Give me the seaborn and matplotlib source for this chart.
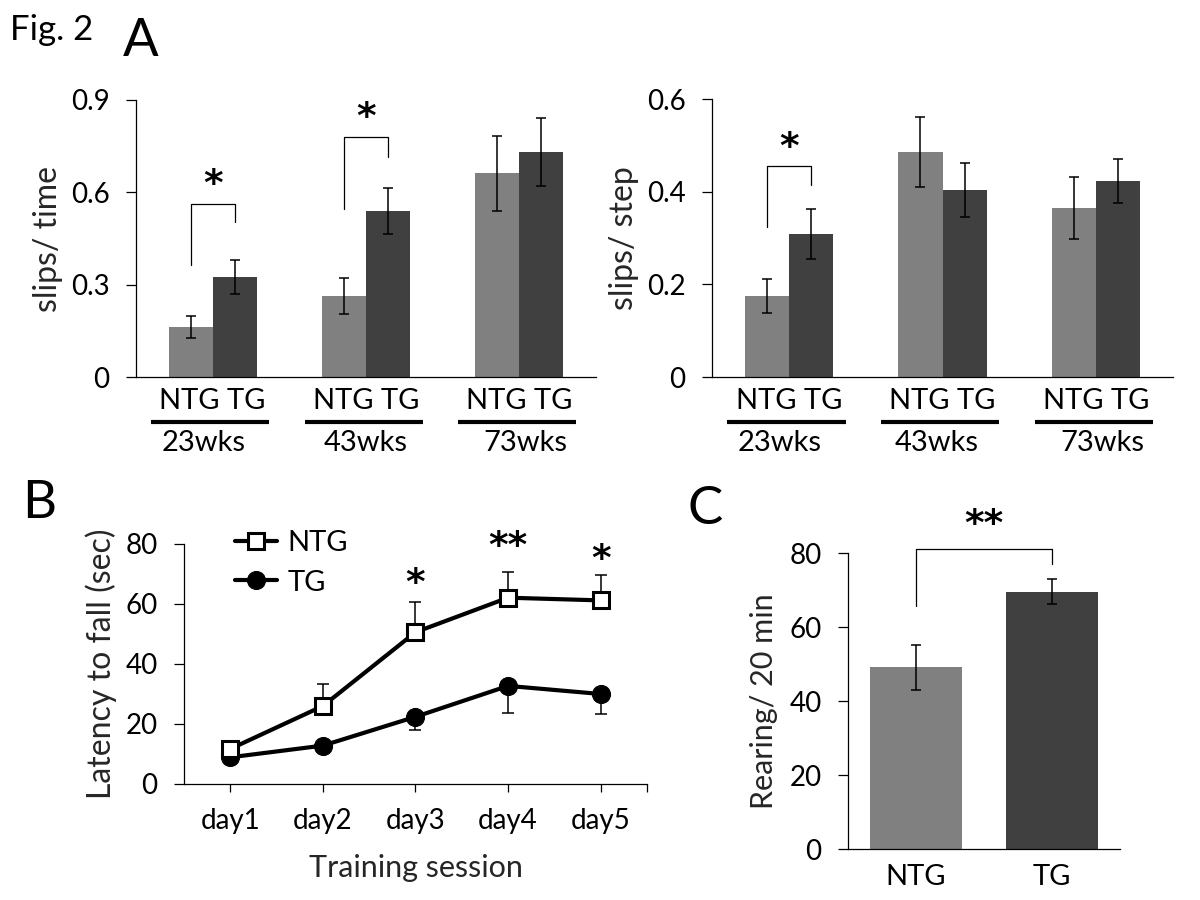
import numpy as np
import pandas as pd
import matplotlib
matplotlib.use("Agg")
import matplotlib.pyplot as plt
import matplotlib.transforms as mtransforms
import seaborn as sns

# ---------------- data ----------------
ages = ["23wks", "43wks", "73wks"]
genotypes = ["NTG", "TG"]

slips_time_ntg = [0.163, 0.263, 0.662]
slips_time_tg = [0.325, 0.539, 0.731]
slips_time_ntg_err = [0.035, 0.058, 0.122]
slips_time_tg_err = [0.054, 0.074, 0.109]
slips_time_ticks = [0, 0.3, 0.6, 0.9]
slips_time_ticklabels = ["0", "0.3", "0.6", "0.9"]

slips_step_ntg = [0.175, 0.486, 0.365]
slips_step_tg = [0.309, 0.404, 0.423]
slips_step_ntg_err = [0.037, 0.075, 0.067]
slips_step_tg_err = [0.054, 0.058, 0.048]
slips_step_ticks = [0, 0.2, 0.4, 0.6]
slips_step_ticklabels = ["0", "0.2", "0.4", "0.6"]

# significance brackets: (group index, left leg bottom, top, right leg bottom, star y, star text)
slips_time_sig = [(0, 0.363, 0.563, 0.502, 0.625, "*"), (1, 0.547, 0.779, 0.716, 0.841, "*")]
slips_step_sig = [(0, 0.323, 0.456, 0.415, 0.495, "*")]

days = ["day1", "day2", "day3", "day4", "day5"]
latency_ntg = [11.7, 26.0, 50.6, 62.1, 61.2]
latency_ntg_err = [1.5, 7.4, 10.1, 8.7, 8.5]
latency_tg = [8.9, 12.8, 22.4, 32.7, 30.0]
latency_tg_err = [1.0, 1.5, 4.3, 8.9, 6.7]
latency_ticks = [0, 20, 40, 60, 80]
latency_stars = [(2, 66.5, "*"), (3, 79.0, "**"), (4, 74.8, "*")]

rearing = [49.1, 69.5]
rearing_err = [6.0, 3.4]
rearing_ticks = [0, 20, 40, 60, 80]
rearing_sig = (65.8, 81.1, 77.1, 87.5, "**")

GRAY = "#808080"
DARK = "#404040"

# ---------------- style ----------------
sns.set_theme(style="ticks")
plt.rcParams['font.family'] = ['Lato', 'DejaVu Sans']
FS = 20
plt.rcParams.update({
    "axes.linewidth": 0.9,
    "xtick.major.width": 0.9,
    "ytick.major.width": 0.9,
    "xtick.minor.width": 0.9,
    "ytick.major.size": 7,
    "ytick.major.pad": 12,
    "xtick.labelsize": FS,
    "ytick.labelsize": FS,
    "axes.labelsize": FS,
    "axes.edgecolor": "black",
    "xtick.color": "black",
    "ytick.color": "black",
    "text.color": "black",
})

W, H = 1200, 900
fig = plt.figure(figsize=(12, 9), dpi=100)
STAR_FONT = ["DejaVu Sans"]


def px_axes(left, top, right, bottom):
    return fig.add_axes([left / W, 1 - bottom / H, (right - left) / W, (bottom - top) / H])


def star(ax, x, y, txt, **kw):
    ax.text(x, y, txt, ha="center", va="center", fontsize=27, fontweight="bold",
            family=STAR_FONT, clip_on=False, **kw)


def bracket(ax, x0, x1, yl, yt, yr, ys, txt):
    ax.plot([x0, x0, x1, x1], [yl, yt, yt, yr], color="black", lw=0.9, clip_on=False, zorder=5)
    star(ax, (x0 + x1) / 2, ys, txt)


def panel_a(ax, ntg, tg, ntg_err, tg_err, ticks, ticklabels, ylabel, sigs, wk_offsets):
    df = pd.DataFrame({
        "age": ages * 2,
        "genotype": ["NTG"] * len(ages) + ["TG"] * len(ages),
        "value": ntg + tg,
    })
    sns.barplot(data=df, x="age", y="value", hue="genotype", order=ages,
                hue_order=genotypes, palette=[GRAY, DARK], width=0.574,
                errorbar=None, saturation=1, legend=False, ax=ax, linewidth=0)
    centers = {}
    for cont, errs, g in zip(ax.containers, [ntg_err, tg_err], genotypes):
        xs = [p.get_x() + p.get_width() / 2 for p in cont.patches]
        ys = [p.get_height() for p in cont.patches]
        centers[g] = xs
        ax.errorbar(xs, ys, yerr=errs, fmt="none", ecolor="black", elinewidth=1.1,
                    capsize=3.5, capthick=1.1, zorder=4)
    ax.set_xlim(-0.5, len(ages) - 0.5)
    ax.set_ylim(ticks[0], ticks[-1])
    ax.set_yticks(ticks)
    ax.set_yticklabels(ticklabels)
    ax.set_xticks([])
    ax.set_xlabel("")
    ax.set_ylabel(ylabel, fontsize=23, labelpad=6)
    sns.despine(ax=ax)
    trans = mtransforms.blended_transform_factory(ax.transData, ax.transAxes)
    for i, age in enumerate(ages):
        ax.text(i, -0.087, "NTG TG", transform=trans, ha="center", va="center", fontsize=FS + 1)
        ax.plot([i - 0.40, i + 0.37], [-0.162, -0.162], transform=trans, color="black",
                lw=3, clip_on=False, solid_capstyle="butt")
        ax.text(i + wk_offsets[i], -0.238, age, transform=trans, ha="center", va="center", fontsize=FS + 1)
    for g, yl, yt, yr, ys, txt in sigs:
        bracket(ax, centers["NTG"][g], centers["TG"][g], yl, yt, yr, ys, txt)


# Panel A left
axA1 = px_axes(136, 100, 596, 377)
panel_a(axA1, slips_time_ntg, slips_time_tg, slips_time_ntg_err, slips_time_tg_err,
        slips_time_ticks, slips_time_ticklabels, "slips/ time", slips_time_sig, [-0.06, 0.0, 0.04])

# Panel A right
axA2 = px_axes(712, 99, 1173, 377)
panel_a(axA2, slips_step_ntg, slips_step_tg, slips_step_ntg_err, slips_step_tg_err,
        slips_step_ticks, slips_step_ticklabels, "slips/ step", slips_step_sig, [-0.06, -0.04, 0.04])

# Panel B
axB = px_axes(184, 544, 647, 784)
xpos = np.arange(len(days))
axB.errorbar(xpos, latency_ntg, yerr=[np.zeros(len(days)), latency_ntg_err], fmt="none",
             ecolor="black", elinewidth=1.1, capsize=4, capthick=1.1, zorder=2)
axB.errorbar(xpos, latency_tg, yerr=[latency_tg_err, np.zeros(len(days))], fmt="none",
             ecolor="black", elinewidth=1.1, capsize=4, capthick=1.1, zorder=2)
sns.lineplot(x=xpos, y=latency_ntg, ax=axB, color="black", lw=3, marker="s", markersize=11,
             markerfacecolor="white", markeredgecolor="black", markeredgewidth=2.2,
             label="NTG", zorder=4)
sns.lineplot(x=xpos, y=latency_tg, ax=axB, color="black", lw=3, marker="o", markersize=13,
             markerfacecolor="black", markeredgecolor="black", label="TG", zorder=3)
axB.set_xlim(-0.5, len(days) - 0.5)
axB.set_ylim(latency_ticks[0], latency_ticks[-1])
axB.set_yticks(latency_ticks)
axB.set_xticks(xpos)
axB.set_xticklabels(days)
axB.set_xticks([len(days) - 0.5], minor=True)
axB.tick_params(axis="x", which="both", direction="out", length=6, pad=11)
axB.set_xlabel("Training session", fontsize=22, labelpad=15)
axB.set_ylabel("Latency to fall (sec)", fontsize=23, labelpad=6)
sns.despine(ax=axB)
leg = axB.legend(loc="upper left", bbox_to_anchor=(0.085, 1.105), frameon=False, fontsize=FS + 1,
                 handlelength=1.45, handletextpad=0.35, labelspacing=0.45, borderaxespad=0)
for x, y, txt in latency_stars:
    star(axB, x, y, txt)

# Panel C
axC = px_axes(848, 553, 1120, 849)
dfc = pd.DataFrame({"genotype": genotypes, "rearing": rearing})
sns.barplot(data=dfc, x="genotype", y="rearing", hue="genotype", palette=[GRAY, DARK],
            width=0.68, errorbar=None, saturation=1, legend=False, ax=axC, linewidth=0)
xc = [p.get_x() + p.get_width() / 2 for p in axC.patches]
axC.errorbar(xc, rearing, yerr=rearing_err, fmt="none", ecolor="black", elinewidth=1.1,
             capsize=3.5, capthick=1.1, zorder=4)
axC.set_xlim(-0.5, 1.5)
axC.set_ylim(rearing_ticks[0], rearing_ticks[-1])
axC.set_yticks(rearing_ticks)
axC.tick_params(axis="x", length=0, pad=11, labelsize=FS + 1)
axC.set_xlabel("")
axC.set_ylabel("Rearing/ 20 min", fontsize=22, labelpad=8)
sns.despine(ax=axC)
yl, yt, yr, ys, txt = rearing_sig
bracket(axC, xc[0], xc[1], yl, yt, yr, ys, txt)

# Figure labels
fig.text(10 / W, 1 - 30 / H, "Fig. 2", fontsize=25, ha="left", va="center")
fig.text(123 / W, 1 - 42 / H, "A", fontsize=38, ha="left", va="center")
fig.text(22 / W, 1 - 503 / H, "B", fontsize=38, ha="left", va="center")
fig.text(688 / W, 1 - 510 / H, "C", fontsize=38, ha="left", va="center")

fig.savefig("out.png", dpi=100, facecolor="white")
